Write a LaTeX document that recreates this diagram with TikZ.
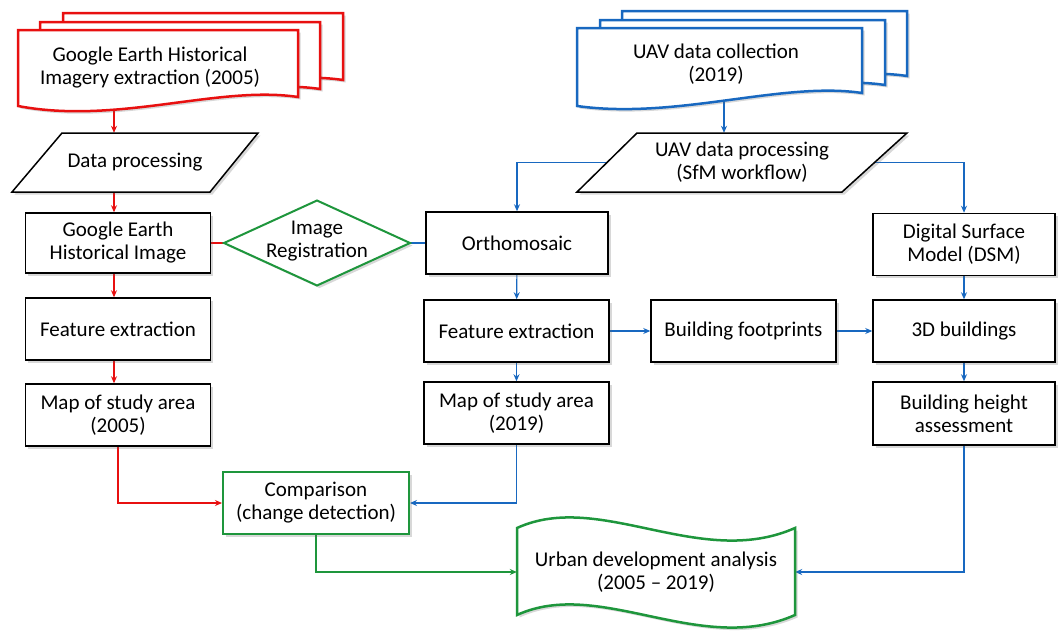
\documentclass[tikz,border=0pt]{standalone}
\usepackage{fontspec}
\setmainfont{Carlito}
\usetikzlibrary{shadows,arrows.meta,calc}
\definecolor{cred}{RGB}{232,16,16}
\definecolor{cblue}{RGB}{24,104,192}
\definecolor{cgreen}{RGB}{30,150,60}
\pgfdeclarelayer{bg}
\pgfsetlayers{bg,main}
\begin{document}
\begin{tikzpicture}[x=1pt,y=-1pt,
  txt/.style={font=\fontsize{21pt}{23pt}\selectfont, align=center, inner sep=0pt},
  shad/.style={drop shadow={shadow xshift=2.5pt,shadow yshift=-2.5pt,opacity=0.25,fill=black!60}},
  pbox/.style={txt, draw=black, line width=1.5pt, fill=white, shad, minimum height=62pt, minimum width=185pt},
  gbox/.style={pbox, draw=cgreen, line width=2pt},
  outl/.style={draw=black, line width=1.5pt, fill=white, shad},
  reddoc/.style={draw=cred, line width=2.5pt, fill=white, shad},
  bluedoc/.style={draw=cblue, line width=2.5pt, fill=white, shad},
  tip/.style={-{Stealth[length=7pt,width=6pt]}},
  ra/.style={draw=cred, line width=1.1pt, tip},
  ba/.style={draw=cblue, line width=1.1pt, tip},
  ga/.style={draw=cgreen, line width=1.4pt, tip},
]
\useasboundingbox (0,0) rectangle (1058,635);
\begin{pgfonlayer}{bg}
\fill[white] (0,0) rectangle (1058,635);
\end{pgfonlayer}

% ---------- left document stack ----------
\foreach \dx/\dy in {45/-17, 22/-8, 0/0}
  \draw[reddoc, shift={(18+\dx,30+\dy)}] (0,0) -- (280,0) -- (280,67)
     .. controls (200,55) and (100,95) .. (0,76) -- cycle;
\node[txt] (docL) at (150,67.5) {Google Earth Historical\\Imagery extraction (2005)};

% ---------- right document stack ----------
\foreach \dx/\dy in {45/-17, 23/-8, 0/0}
  \draw[bluedoc, shift={(577+\dx,28+\dy)}] (0,0) -- (285,0) -- (285,65)
     .. controls (205,53) and (100,92) .. (0,78) -- cycle;
\node[txt] (docR) at (716,64) {UAV data collection\\(2019)};

% ---------- parallelograms ----------
\draw[outl] (12,192) -- (62,133) -- (258,133) -- (210,192) -- cycle;
\node[txt, minimum width=246pt, minimum height=59pt] (dp) at (135,162.5) {Data processing};
\draw[outl] (577,192) -- (637,133) -- (907,133) -- (842,192) -- cycle;
\node[txt, minimum width=330pt, minimum height=59pt] (up) at (742,162.5) {UAV data processing\\(SfM workflow)};

% ---------- left column ----------
\node[pbox, minimum height=60pt] (ge) at (118,243) {Google Earth\\Historical Image};
\node[pbox] (fl) at (118,329) {Feature extraction};
\node[pbox] (ml) at (118,415) {Map of study area\\(2005)};

% ---------- diamond ----------
\draw[draw=cgreen, line width=2pt, fill=white, shad] (224,243) -- (317,200.5) -- (410,243) -- (317,285.5) -- cycle;
\node[txt, minimum width=186pt, minimum height=85pt] (dia) at (317,241) {Image\\Registration};

% ---------- middle column ----------
\node[pbox, minimum width=182pt] (orth) at (517,243) {Orthomosaic};
\node[pbox] (fm) at (516.5,331) {Feature extraction};
\node[pbox] (mm) at (516.5,413) {Map of study area\\(2019)};
\node[pbox] (bf) at (743.5,331) {Building footprints};

% ---------- right column ----------
\node[pbox, minimum width=182pt] (dsm) at (964,244.5) {Digital Surface\\Model (DSM)};
\node[pbox, minimum width=182pt] (b3d) at (964,331) {3D buildings};
\node[pbox, minimum width=182pt, minimum height=63pt] (bh) at (964,413.5) {Building height\\assessment};

% ---------- bottom ----------
\node[gbox, minimum width=186pt] (comp) at (316,503) {Comparison\\(change detection)};
\draw[draw=cgreen, line width=2.5pt, fill=white, shad]
  (517,528) .. controls (600,490) and (700,570) .. (795,528) -- (795,615)
  .. controls (700,657) and (600,577) .. (517,615) -- cycle;
\node[txt, minimum width=278pt, minimum height=87pt] (wave) at (656,572) {Urban development analysis\\(2005 -- 2019)};

% ---------- connectors ----------
\begin{pgfonlayer}{bg}
\draw[ra] ([xshift=-4pt]docL.center -| ge.north) -- ([xshift=-4pt]dp.north -| ge.north);
\draw[ra] ([xshift=-4pt]dp.center -| ge.north) -- ([xshift=-4pt]ge.north);
\draw[ra] ([xshift=-4pt]ge.south) -- ([xshift=-4pt]fl.north);
\draw[ra] ([xshift=-4pt]fl.south) -- ([xshift=-4pt]ml.north);
\draw[draw=cred, line width=1.4pt] (ge.east) -- (ge.east -| dia.west);
\draw[draw=cblue, line width=1.4pt] (orth.west -| dia.east) -- (orth.west);
\draw[ra] (ml.south) |- (comp.west);

\draw[ba] ([xshift=8pt]docR.center) -- ([xshift=8pt]docR.center |- up.north);
\draw[ba] (up.center) -| (orth.north);
\draw[ba] (up.center) -| (dsm.north);
\draw[ba] (orth) -- (fm);
\draw[ba] (fm) -- (mm);
\draw[ba] (fm) -- (bf);
\draw[ba] (bf) -- (b3d);
\draw[ba] (dsm) -- (b3d);
\draw[ba] (b3d) -- (bh);
\draw[ba] (mm.south) |- (comp.east);
\draw[ba] (bh.south) |- (wave.east);

\draw[ga] (comp.south) |- (wave.west);
\end{pgfonlayer}
\end{tikzpicture}
\end{document}
